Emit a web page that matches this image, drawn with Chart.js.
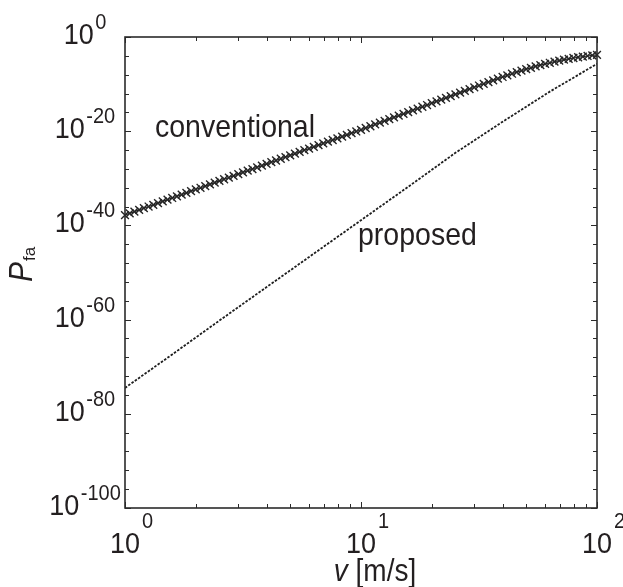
<!DOCTYPE html>
<html>
<head>
<meta charset="utf-8">
<script src="https://cdn.jsdelivr.net/npm/chart.js@4.4.1/dist/chart.umd.min.js"></script>
<style>
html,body{margin:0;padding:0;background:#fff;}
#wrap{width:623px;height:587px;position:relative;}
</style>
</head>
<body>
<div id="wrap"><canvas id="c" width="623" height="587"></canvas></div>
<script>
// ---- data ----
const convV = [
1, 1.047, 1.096, 1.148, 1.202, 1.259, 1.318, 1.380, 1.445, 1.514,
1.585, 1.660, 1.738, 1.820, 1.905, 1.995, 2.089, 2.188, 2.291, 2.399,
2.512, 2.630, 2.754, 2.884, 3.020, 3.162, 3.311, 3.467, 3.631, 3.802,
3.981, 4.169, 4.365, 4.571, 4.786, 5.012, 5.248, 5.495, 5.754, 6.026,
6.310, 6.607, 6.918, 7.244, 7.586, 7.943, 8.318, 8.710, 9.120, 9.550,
10, 10.47, 10.96, 11.48, 12.02, 12.59, 13.18, 13.80, 14.45, 15.14,
15.85, 16.60, 17.38, 18.20, 19.05, 19.95, 20.89, 21.88, 22.91, 23.99,
25.12, 26.30, 27.54, 28.84, 30.20, 31.62, 33.11, 34.67, 36.31, 38.02,
39.81, 41.69, 43.65, 45.71, 47.86, 50.12, 52.48, 54.95, 57.54, 60.26,
63.10, 66.07, 69.18, 72.44, 75.86, 79.43, 83.18, 87.10, 91.20, 95.50,
100];
// log10 of P_fa (conventional)
const convExp = [
-37.80, -37.44, -37.08, -36.71, -36.35, -35.99, -35.63, -35.27, -34.90, -34.54,
-34.18, -33.82, -33.46, -33.09, -32.73, -32.37, -32.01, -31.65, -31.28, -30.92,
-30.56, -30.20, -29.84, -29.47, -29.11, -28.75, -28.39, -28.03, -27.66, -27.30,
-26.94, -26.58, -26.22, -25.85, -25.49, -25.13, -24.77, -24.41, -24.04, -23.68,
-23.32, -22.96, -22.60, -22.23, -21.87, -21.51, -21.15, -20.79, -20.42, -20.06,
-19.70, -19.32, -18.95, -18.57, -18.20, -17.82, -17.44, -17.07, -16.69, -16.32,
-15.94, -15.56, -15.19, -14.81, -14.44, -14.06, -13.68, -13.31, -12.93, -12.56,
-12.18, -11.80, -11.43, -11.05, -10.68, -10.30, -9.93, -9.56, -9.20, -8.84,
-8.49, -8.14, -7.80, -7.47, -7.15, -6.84, -6.54, -6.25, -5.98, -5.72,
-5.47, -5.24, -5.02, -4.82, -4.63, -4.46, -4.30, -4.16, -4.03, -3.91,
-3.81];
const propV = [1, 1.585, 2.512, 3.981, 6.310, 10, 15.85, 25.12, 39.81, 63.10, 100];
// log10 of P_fa (proposed)
const propExp = [-74.5, -67.4, -60.2, -53.1, -46.0, -38.9, -31.8, -24.6, -18.0, -11.6, -5.7];

const xMajorV = [1, 10, 100];
const xMajorLabelExp = ['0', '1', '2'];
const xMinorV = [2, 3, 4, 5, 6, 7, 8, 9, 20, 30, 40, 50, 60, 70, 80, 90];
const yMajorExp = [0, -20, -40, -60, -80, -100];
const yMinorExp = [-4, -8, -12, -16, -24, -28, -32, -36, -44, -48, -52, -56, -64, -68, -72, -76, -84, -88, -92, -96];

const annoText = ['conventional', 'proposed'];
const annoV = [1.34, 9.71];
const annoExp = [-21.2, -44.2];

const xTitleItalic = 'v';
const xTitleRest = ' [m/s]';
const yTitleMain = 'P';
const yTitleSub = 'fa';

// ---- chart ----
const TXT = '#231f20';
const AX = '#2b2b2b';
const FONT = '"Liberation Sans", Arial, Helvetica, sans-serif';
const STRETCH = 1.1;

const deco = {
  id: 'deco',
  afterDraw(chart) {
    const ctx = chart.ctx, a = chart.chartArea;
    const xs = chart.scales.x, ys = chart.scales.y;
    ctx.save();
    ctx.strokeStyle = AX;
    ctx.lineWidth = 1;
    const ln = (x1, y1, x2, y2) => { ctx.beginPath(); ctx.moveTo(x1, y1); ctx.lineTo(x2, y2); ctx.stroke(); };
    // y ticks (left and right, inward)
    yMajorExp.forEach(e => { const p = Math.round(ys.getPixelForValue(Math.pow(10, e))) + 0.5; ln(a.left, p, a.left + 6, p); ln(a.right, p, a.right - 6, p); });
    yMinorExp.forEach(e => { const p = Math.round(ys.getPixelForValue(Math.pow(10, e))) + 0.5; ln(a.left, p, a.left + 4, p); ln(a.right, p, a.right - 4, p); });
    // x ticks (bottom and top, inward)
    xMajorV.forEach(v => { const p = Math.round(xs.getPixelForValue(v)) + 0.5; ln(p, a.bottom, p, a.bottom - 6); ln(p, a.top, p, a.top + 6); });
    xMinorV.forEach(v => { const p = Math.round(xs.getPixelForValue(v)) + 0.5; ln(p, a.bottom, p, a.bottom - 4); ln(p, a.top, p, a.top + 4); });
    // frame
    ctx.lineWidth = 1.6;
    ctx.strokeRect(a.left, a.top, a.right - a.left, a.bottom - a.top);

    ctx.fillStyle = TXT;
    ctx.textAlign = 'left';
    ctx.textBaseline = 'alphabetic';
    const txt = (s, x, y, f) => {
      ctx.save(); ctx.translate(x, y); ctx.scale(1, STRETCH); ctx.font = f; ctx.fillText(s, 0, 0); ctx.restore();
    };
    const wid = (s, f) => { ctx.font = f; return ctx.measureText(s).width; };
    const bigF = '27px ' + FONT, supF = '20px ' + FONT;
    // y tick labels
    yMajorExp.forEach(e => {
      const p = ys.getPixelForValue(Math.pow(10, e));
      const es = String(e);
      const w1 = wid('10', bigF), w2 = wid(es, supF);
      const w = w1 + 1.5 + w2;
      const x0 = a.left - 40 - w / 2;
      txt('10', x0, p + 7, bigF);
      txt(es, x0 + w1 + 1.5, p - 8, supF);
    });
    // x tick labels
    xMajorV.forEach((v, i) => {
      const p = xs.getPixelForValue(v);
      const w1 = wid('10', bigF);
      txt('10', p - w1 / 2, a.bottom + 45, bigF);
      txt(xMajorLabelExp[i], p + w1 / 2 + 2, a.bottom + 20, supF);
    });
    // annotations
    annoText.forEach((t, i) => {
      txt(t, xs.getPixelForValue(annoV[i]), ys.getPixelForValue(Math.pow(10, annoExp[i])), '28.5px ' + FONT);
    });
    // x title
    const fI = 'italic 28px ' + FONT, fR = '28px ' + FONT;
    const wv = wid(xTitleItalic, fI), wr = wid(xTitleRest, fR);
    const xt0 = 375 - (wv + wr) / 2;
    txt(xTitleItalic, xt0, 581, fI);
    txt(xTitleRest, xt0 + wv, 581, fR);
    // y title
    ctx.save();
    ctx.translate(32, 282);
    ctx.rotate(-Math.PI / 2);
    ctx.font = 'italic 30px ' + FONT; const wp = ctx.measureText(yTitleMain).width;
    ctx.save(); ctx.scale(1, STRETCH); ctx.fillText(yTitleMain, 0, 0); ctx.restore();
    ctx.font = '17px ' + FONT; ctx.fillText(yTitleSub, wp + 1, 3);
    ctx.restore();
    ctx.restore();
  }
};

new Chart(document.getElementById('c'), {
  type: 'line',
  data: {
    datasets: [
      {
        label: 'conventional',
        data: convV.map((v, i) => ({ x: v, y: Math.pow(10, convExp[i]) })),
        borderColor: '#222',
        borderWidth: 1.2,
        pointStyle: 'crossRot',
        pointRadius: 5.5,
        pointBorderColor: '#262626',
        pointBorderWidth: 1.4,
        pointBackgroundColor: '#262626',
        tension: 0,
        clip: false
      },
      {
        label: 'proposed',
        data: propV.map((v, i) => ({ x: v, y: Math.pow(10, propExp[i]) })),
        borderColor: '#1e1e1e',
        borderWidth: 1.8,
        borderDash: [2.5, 1.5],
        pointRadius: 0,
        tension: 0
      }
    ]
  },
  options: {
    responsive: false,
    animation: false,
    devicePixelRatio: 1,
    layout: { padding: { left: 125, top: 37, right: 26, bottom: 79 } },
    plugins: { legend: { display: false }, tooltip: { enabled: false } },
    scales: {
      x: { type: 'logarithmic', min: 1, max: 100, display: false },
      y: { type: 'logarithmic', min: 1e-100, max: 1, display: false }
    }
  },
  plugins: [deco]
});
</script>
</body>
</html>
